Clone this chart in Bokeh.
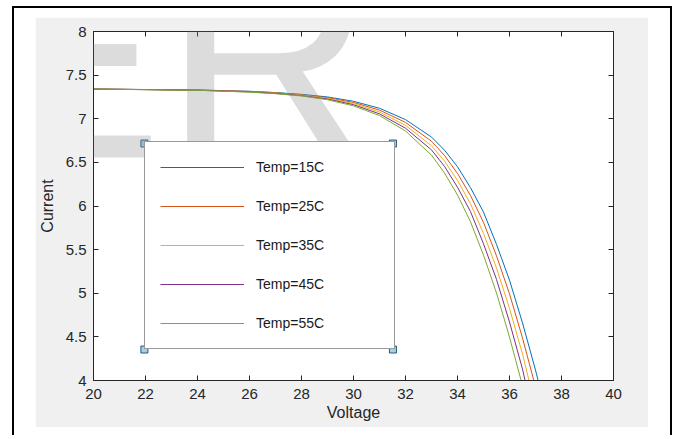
from bokeh.plotting import figure
from bokeh.layouts import column
from bokeh.models import (Range1d, LinearAxis, FixedTicker, Legend, LegendItem, Label)
from bokeh.embed import file_html
from bokeh.resources import INLINE

# ---------------- data ----------------
voltage = [20, 22, 24, 26, 27, 28, 29, 30, 31, 32, 33, 33.5, 34, 34.5, 35, 35.5, 36, 36.5, 37, 37.2, 37.4]
current_15C = [7.34, 7.335, 7.33, 7.315, 7.30, 7.28, 7.25, 7.20, 7.12, 6.99, 6.79, 6.64, 6.45, 6.21, 5.93, 5.56, 5.15, 4.66, 4.12, 3.88, 3.60]
current_25C = [7.34, 7.335, 7.329, 7.313, 7.297, 7.275, 7.242, 7.187, 7.099, 6.958, 6.742, 6.579, 6.373, 6.120, 5.812, 5.429, 4.993, 4.487, 3.928, 3.656, 3.36]
current_35C = [7.34, 7.334, 7.328, 7.310, 7.293, 7.270, 7.234, 7.174, 7.077, 6.924, 6.691, 6.515, 6.292, 6.025, 5.686, 5.289, 4.827, 4.304, 3.698, 3.42, 3.10]
current_45C = [7.34, 7.334, 7.327, 7.308, 7.290, 7.265, 7.226, 7.161, 7.056, 6.892, 6.643, 6.454, 6.215, 5.936, 5.567, 5.158, 4.670, 4.131, 3.465, 3.17, 2.85]
current_55C = [7.34, 7.333, 7.326, 7.305, 7.287, 7.261, 7.218, 7.148, 7.036, 6.860, 6.583, 6.378, 6.126, 5.819, 5.437, 5.003, 4.498, 3.94, 3.20, 2.90, 2.60]

series_names = ["Temp=15C", "Temp=25C", "Temp=35C", "Temp=45C", "Temp=55C"]
series_values = [current_15C, current_25C, current_35C, current_45C, current_55C]
series_colors = ["#0072BD", "#D95319", "#EDB120", "#7E2F8E", "#77AC30"]

x_ticks = [20, 22, 24, 26, 28, 30, 32, 34, 36, 38, 40]
x_tick_labels = ["20", "22", "24", "26", "28", "30", "32", "34", "36", "38", "40"]
y_ticks = [4, 4.5, 5, 5.5, 6, 6.5, 7, 7.5, 8]
y_tick_labels = ["4", "4.5", "5", "5.5", "6", "6.5", "7", "7.5", "8"]
x_label = "Voltage"
y_label = "Current"
watermark = ["E", "R"]

# ---------------- layout (page pixels) ----------------
GX0, GY0, GX1, GY1 = 35, 17, 648, 427      # grey figure area on the page
FL, FR, FT, FB = 92, 613, 31, 380          # plot frame edges on the page
FONT = "Liberation Sans"
DARK = "#262626"

X0, X1, Y0, Y1 = x_ticks[0], x_ticks[-1], y_ticks[0], y_ticks[-1]


def dx(px):
    return X0 + (px - FL) * (X1 - X0) / (FR - FL)


def dy(py):
    return Y1 - (py - FT) * (Y1 - Y0) / (FB - FT)


p = figure(width=GX1 - GX0, height=GY1 - GY0, output_backend="svg", toolbar_location=None,
           x_range=Range1d(X0, X1), y_range=Range1d(Y0, Y1),
           min_border_left=FL - GX0, min_border_right=GX1 - FR,
           min_border_top=FT - GY0, min_border_bottom=GY1 - FB,
           x_axis_label=x_label, y_axis_label=y_label)
p.border_fill_color = "#f0f0f0"
p.background_fill_color = "white"
p.outline_line_color = DARK
p.outline_line_width = 1
p.xgrid.visible = False
p.ygrid.visible = False
p.margin = (GY0 - 8, 672 - GX1 - 2, 8, GX0 - 14)


def style_axis(ax, ticks, labels, show_labels=True):
    ax.ticker = FixedTicker(ticks=ticks)
    ax.major_label_overrides = {t: (l if show_labels else "") for t, l in zip(ticks, labels)}
    ax.minor_tick_line_color = None
    ax.major_tick_in = 5
    ax.major_tick_out = 0
    ax.major_tick_line_color = DARK
    ax.axis_line_color = DARK
    ax.major_label_text_font = FONT
    ax.major_label_text_font_size = "15px"
    ax.major_label_text_color = DARK
    ax.axis_label_text_font = FONT
    ax.axis_label_text_font_size = "16px"
    ax.axis_label_text_font_style = "normal"
    ax.axis_label_text_color = DARK


style_axis(p.xaxis[0], x_ticks, x_tick_labels)
style_axis(p.yaxis[0], y_ticks, y_tick_labels)
p.xaxis[0].major_label_standoff = 8
p.xaxis[0].axis_label_standoff = 2
p.yaxis[0].major_label_standoff = 7
p.yaxis[0].axis_label_standoff = 7

top_ax = LinearAxis()
style_axis(top_ax, x_ticks, x_tick_labels, show_labels=False)
top_ax.major_label_standoff = 0
p.add_layout(top_ax, "above")
right_ax = LinearAxis()
style_axis(right_ax, y_ticks, y_tick_labels, show_labels=False)
right_ax.major_label_standoff = 0
p.add_layout(right_ax, "right")

# ---------------- curves ----------------
renderers = []
for name, vals, col in zip(series_names, series_values, series_colors):
    r = p.line(voltage, vals, line_color=col, line_width=1)
    renderers.append(r)

# ---------------- legend ----------------
LEG_X, LEG_Y, PAD, GW, STAND, LW, SP = 51, 31, 15, 84, 12, 123, 19
legend = Legend(items=[LegendItem(label=n, renderers=[r]) for n, r in zip(series_names, renderers)],
                location=(LEG_X, LEG_Y), margin=0, padding=PAD, spacing=SP,
                glyph_width=GW, glyph_height=20, label_height=20, label_width=LW,
                label_standoff=STAND, label_text_font=FONT, label_text_font_size="14px",
                label_text_color="#1a1a1a", border_line_color="#333333", border_line_width=1,
                background_fill_color="white", background_fill_alpha=1)
p.add_layout(legend)

# selection handles at the legend corners
leg_w = 2 * PAD + GW + STAND + LW
leg_h = 2 * PAD + 5 * 20 + 4 * SP
hx0, hx1 = dx(FL + LEG_X), dx(FL + LEG_X + leg_w)
hy0, hy1 = dy(FB - LEG_Y), dy(FB - LEG_Y - leg_h)
p.scatter([hx0, hx1, hx0, hx1], [hy0, hy0, hy1, hy1], marker="square", size=7,
          fill_color="#9fd3ea", line_color="#2b5a78", line_width=1, level="overlay")

# ---------------- watermark ----------------
for ch, px in zip(watermark, [-32, 162]):
    p.add_layout(Label(x=dx(px), y=dy(56), text=ch, level="overlay",
                       text_font=FONT, text_font_size="290px", text_color="#8c8c8c",
                       text_alpha=0.3, text_baseline="alphabetic", text_align="left"))

# ---------------- page: white sheet with a black frame ----------------
root = column(p, margin=(6, 0, 0, 12),
              styles={"border-top": "2px solid black", "border-left": "2px solid black",
                      "border-right": "2px solid black", "background-color": "white"})

open("out.html", "w").write(file_html(root, INLINE))
